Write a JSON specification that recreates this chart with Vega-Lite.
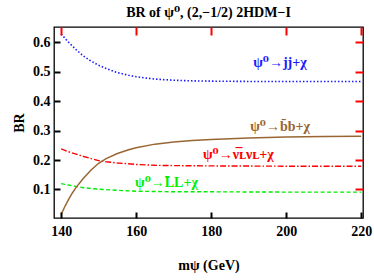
{
  "$schema": "https://vega.github.io/schema/vega-lite/v6.json",
  "width": 309,
  "height": 191,
  "autosize": "none",
  "padding": {"left": 54, "top": 27, "right": 11, "bottom": 62},
  "config": {
    "view": {"stroke": "black", "strokeWidth": 1.3},
    "font": "Times New Roman, Liberation Serif, DejaVu Serif, serif",
    "axis": {"labelFont": "Times New Roman, Liberation Serif, DejaVu Serif, serif", "labelFontWeight": "bold", "labelFontSize": 14, "labelColor": "black", "titleFont": "Times New Roman, Liberation Serif, DejaVu Serif, serif", "titleFontWeight": "bold", "titleFontSize": 14, "titleColor": "black"}
  },
  "title": {"text": "BR of ψ⁰, (2,−1/2) 2HDM−I", "font": "Times New Roman, Liberation Serif, DejaVu Serif, serif", "fontSize": 14, "fontWeight": "bold", "color": "black", "offset": 6},
  "data": {"values": [
    {"m": 140, "br": 0.628, "s": "jj"}, {"m": 142, "br": 0.600, "s": "jj"}, {"m": 144, "br": 0.575, "s": "jj"}, {"m": 146, "br": 0.553, "s": "jj"}, {"m": 148, "br": 0.536, "s": "jj"}, {"m": 150, "br": 0.522, "s": "jj"}, {"m": 152, "br": 0.511, "s": "jj"}, {"m": 155, "br": 0.497, "s": "jj"}, {"m": 158, "br": 0.488, "s": "jj"}, {"m": 160, "br": 0.483, "s": "jj"}, {"m": 165, "br": 0.475, "s": "jj"}, {"m": 170, "br": 0.471, "s": "jj"}, {"m": 175, "br": 0.469, "s": "jj"}, {"m": 180, "br": 0.468, "s": "jj"}, {"m": 190, "br": 0.467, "s": "jj"}, {"m": 200, "br": 0.467, "s": "jj"}, {"m": 210, "br": 0.467, "s": "jj"}, {"m": 220, "br": 0.467, "s": "jj"},
    {"m": 140, "br": 0.238, "s": "nn"}, {"m": 142, "br": 0.228, "s": "nn"}, {"m": 144, "br": 0.220, "s": "nn"}, {"m": 146, "br": 0.212, "s": "nn"}, {"m": 148, "br": 0.205, "s": "nn"}, {"m": 150, "br": 0.198, "s": "nn"}, {"m": 152, "br": 0.194, "s": "nn"}, {"m": 155, "br": 0.190, "s": "nn"}, {"m": 160, "br": 0.185, "s": "nn"}, {"m": 165, "br": 0.182, "s": "nn"}, {"m": 170, "br": 0.181, "s": "nn"}, {"m": 180, "br": 0.180, "s": "nn"}, {"m": 200, "br": 0.179, "s": "nn"}, {"m": 220, "br": 0.179, "s": "nn"},
    {"m": 140, "br": 0.120, "s": "LL"}, {"m": 142, "br": 0.115, "s": "LL"}, {"m": 144, "br": 0.110, "s": "LL"}, {"m": 146, "br": 0.106, "s": "LL"}, {"m": 148, "br": 0.103, "s": "LL"}, {"m": 150, "br": 0.101, "s": "LL"}, {"m": 155, "br": 0.097, "s": "LL"}, {"m": 160, "br": 0.094, "s": "LL"}, {"m": 165, "br": 0.093, "s": "LL"}, {"m": 170, "br": 0.092, "s": "LL"}, {"m": 180, "br": 0.092, "s": "LL"}, {"m": 200, "br": 0.091, "s": "LL"}, {"m": 220, "br": 0.091, "s": "LL"},
    {"m": 140, "br": 0.015, "s": "bb"}, {"m": 141, "br": 0.042, "s": "bb"}, {"m": 142, "br": 0.066, "s": "bb"}, {"m": 143, "br": 0.088, "s": "bb"}, {"m": 144, "br": 0.107, "s": "bb"}, {"m": 146, "br": 0.139, "s": "bb"}, {"m": 148, "br": 0.166, "s": "bb"}, {"m": 150, "br": 0.189, "s": "bb"}, {"m": 152, "br": 0.205, "s": "bb"}, {"m": 155, "br": 0.222, "s": "bb"}, {"m": 158, "br": 0.235, "s": "bb"}, {"m": 160, "br": 0.242, "s": "bb"}, {"m": 165, "br": 0.254, "s": "bb"}, {"m": 170, "br": 0.261, "s": "bb"}, {"m": 175, "br": 0.266, "s": "bb"}, {"m": 180, "br": 0.270, "s": "bb"}, {"m": 190, "br": 0.275, "s": "bb"}, {"m": 200, "br": 0.278, "s": "bb"}, {"m": 210, "br": 0.280, "s": "bb"}, {"m": 220, "br": 0.281, "s": "bb"}
  ]},
  "resolve": {"axis": {"x": "independent", "y": "independent"}},
  "layer": [
    {
      "transform": [{"filter": "datum.s === 'jj'"}],
      "mark": {"type": "line", "color": "#1a1aff", "strokeWidth": 1.6, "strokeDash": [1.5, 2]},
      "encoding": {
        "x": {"field": "m", "type": "quantitative", "scale": {"domain": [138.1, 220.5], "nice": false, "zero": false},
          "axis": {"orient": "bottom", "zindex": 1, "grid": false, "domain": false, "tickColor": "black", "tickWidth": 2, "title": "mψ (GeV)", "titlePadding": 20, "values": [140,160,180,200,220], "tickSize": -6, "labelPadding": 12, "labelFlush": false}},
        "y": {"field": "br", "type": "quantitative", "scale": {"domain": [0.003, 0.652], "nice": false, "zero": false},
          "axis": {"orient": "left", "zindex": 1, "grid": false, "domain": false, "tickColor": "black", "tickWidth": 2, "title": "BR", "titlePadding": 6, "values": [0.1,0.2,0.3,0.4,0.5,0.6], "format": ".1f", "tickSize": -6, "labelPadding": 10}}
      }
    },
    {
      "transform": [{"filter": "datum.s === 'nn'"}],
      "mark": {"type": "line", "color": "#ff0000", "strokeWidth": 1.4, "strokeDash": [6, 2, 1.5, 2]},
      "encoding": {
        "x": {"field": "m", "type": "quantitative",
          "axis": {"orient": "top", "zindex": 1, "grid": false, "domain": false, "tickColor": "red", "tickWidth": 2, "title": null, "labels": false, "values": [140,160,180,200,220], "tickSize": -8}},
        "y": {"field": "br", "type": "quantitative",
          "axis": {"orient": "right", "zindex": 1, "grid": false, "domain": false, "tickColor": "red", "tickWidth": 2, "title": null, "labels": false, "values": [0.1,0.2,0.3,0.4,0.5,0.6], "tickSize": -8}}
      }
    },
    {
      "transform": [{"filter": "datum.s === 'LL'"}],
      "mark": {"type": "line", "color": "#00ee00", "strokeWidth": 1.4, "strokeDash": [4, 2.5]},
      "encoding": {
        "x": {"field": "m", "type": "quantitative", "axis": null},
        "y": {"field": "br", "type": "quantitative", "axis": null}
      }
    },
    {
      "transform": [{"filter": "datum.s === 'bb'"}],
      "mark": {"type": "line", "color": "#996633", "strokeWidth": 1.5},
      "encoding": {
        "x": {"field": "m", "type": "quantitative", "axis": null},
        "y": {"field": "br", "type": "quantitative", "axis": null}
      }
    },
    {
      "data": {"values": [
        {"m": 191.2, "br": 0.529, "t": "ψ⁰→jj+χ", "c": "jj"},
        {"m": 190.4, "br": 0.312, "t": "ψ⁰→b̄b+χ", "c": "bb"},
        {"m": 177.8, "br": 0.217, "t": "ψ⁰→ν̅ʟνʟ+χ", "c": "nn"},
        {"m": 159.7, "br": 0.122, "t": "ψ⁰→L̄L+χ", "c": "LL"}
      ]},
      "mark": {"type": "text", "align": "left", "baseline": "middle", "font": "Times New Roman, Liberation Serif, DejaVu Serif, serif", "fontSize": 14, "fontWeight": "bold"},
      "encoding": {
        "x": {"field": "m", "type": "quantitative", "axis": null},
        "y": {"field": "br", "type": "quantitative", "axis": null},
        "text": {"field": "t"},
        "color": {"field": "c", "type": "nominal", "legend": null, "scale": {"domain": ["jj", "bb", "nn", "LL"], "range": ["#1a1aff", "#996633", "#ff0000", "#00ee00"]}}
      }
    }
  ]
}
